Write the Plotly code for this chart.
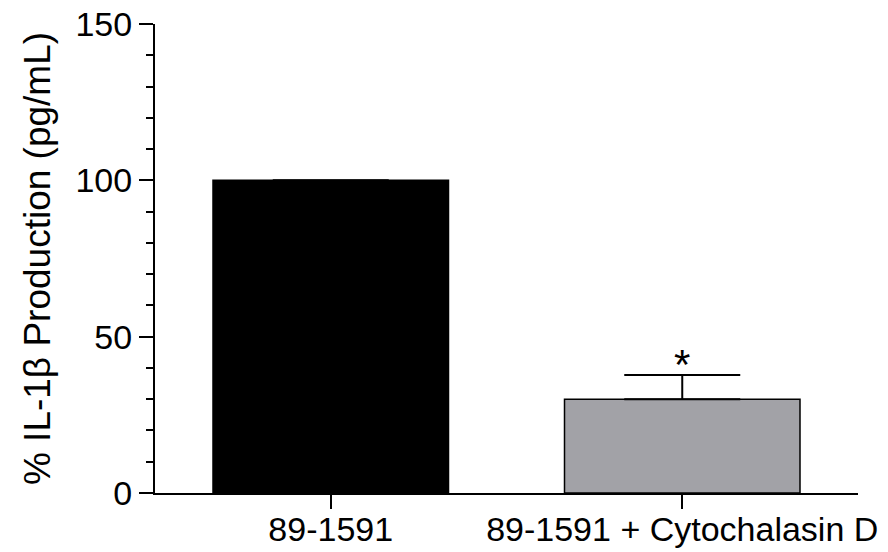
import plotly.graph_objects as go

# Data
categories = ["89-1591", "89-1591 + Cytochalasin D"]
production_pct = [100, 30]
error_upper = [0, 7.7]
bar_colors = ["#000000", "#a2a2a7"]
y_ticks = [0, 50, 100, 150]

FONT = "Arial, Liberation Sans, Helvetica, sans-serif"

fig = go.Figure()
fig.add_trace(go.Bar(
    x=categories,
    y=production_pct,
    marker=dict(color=bar_colors, line=dict(color="#000000", width=1.5)),
    error_y=dict(type="data", symmetric=False, array=error_upper,
                 arrayminus=[0, 0], color="#000000", thickness=2, width=58),
    showlegend=False,
))

# Significance marker above the treated group
fig.add_annotation(
    x=categories[1], y=production_pct[1] + error_upper[1],
    text="*", showarrow=False, yanchor="bottom", yshift=-15,
    font=dict(family=FONT, size=42, color="#000000"),
)

fig.update_layout(
    width=888, height=552,
    margin=dict(l=155, r=30, t=24, b=59),
    paper_bgcolor="white", plot_bgcolor="white",
    bargap=0.33,
    font=dict(family=FONT, color="#000000"),
)

fig.update_xaxes(
    range=[-0.5, 1.5], automargin=False,
    showline=True, linecolor="#000000", linewidth=2,
    ticks="outside", ticklen=14, tickwidth=2, tickcolor="#000000",
    ticklabelstandoff=-9,
    tickfont=dict(size=34), showgrid=False, zeroline=False,
)

fig.update_yaxes(
    range=[0, 150], automargin=False,
    tickvals=y_ticks,
    showline=True, linecolor="#000000", linewidth=2,
    ticks="outside", ticklen=14, tickwidth=2, tickcolor="#000000",
    minor=dict(dtick=10, ticks="outside", ticklen=7, tickwidth=2,
               tickcolor="#000000", showgrid=False),
    tickfont=dict(size=34), showgrid=False, zeroline=False,
    title=dict(text="% IL-1\u03b2 Production (pg/mL)", font=dict(size=37),
               standoff=14),
)

fig.write_html("out.html")
